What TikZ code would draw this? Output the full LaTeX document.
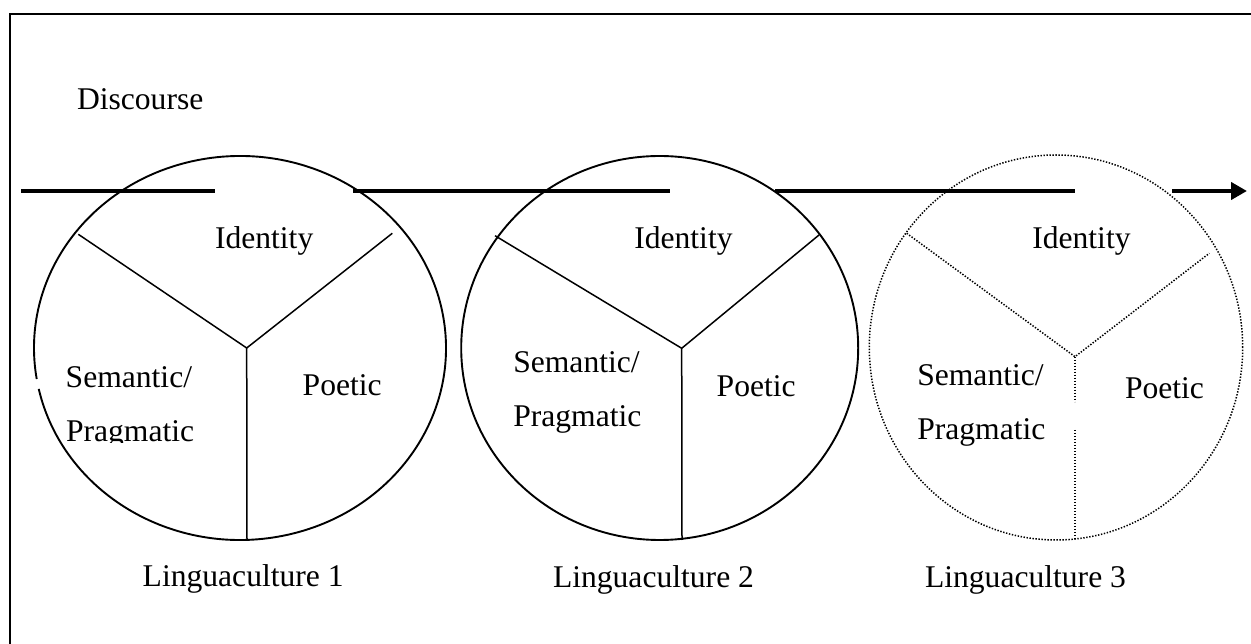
\documentclass[tikz,border=0pt]{standalone}
\usepackage{fontspec}
\setmainfont{Liberation Serif}
\usetikzlibrary{arrows.meta}
\begin{document}
\begin{tikzpicture}[x=1pt,y=1pt,
  every node/.style={inner sep=0pt, outer sep=0pt, anchor=base west,
    font=\fontsize{31.6}{37}\selectfont},
  frameline/.style={line width=2pt},
  ring/.style={line width=1.9pt},
  spoke/.style={line width=1.5pt},
  dotted ring/.style={line width=1.5pt, dash pattern=on 1.4pt off 1.6pt},
  flow/.style={line width=4pt},
  flowtip/.style={flow, -{Triangle[length=16pt,width=17pt]}}]
\useasboundingbox (0,0) rectangle (1251,643);
\fill[white] (0,0) rectangle (1251,643);

% outer frame (only the top and left edges fall inside the page)
\draw[frameline] (9.5,-5) -- (9.5,629) -- (1260,629);

% discourse timeline, broken into segments
\coordinate (d0) at (21,452);   \coordinate (d1) at (215,452);
\coordinate (d2) at (353,452);  \coordinate (d3) at (670,452);
\coordinate (d4) at (775,452);  \coordinate (d5) at (1075,452);
\coordinate (d6) at (1172,452); \coordinate (d7) at (1247,452);
\draw[flow] (d0) -- (d1);
\draw[flow] (d2) -- (d3);
\draw[flow] (d4) -- (d5);
\draw[flowtip] (d6) -- (d7);
\node (disc) at (77,533) {Discourse};

% ---- linguaculture 1 ----
\coordinate (c1) at (240,295);
\draw[ring] (c1) ++(192.3:206 and 192)
  arc[start angle=192.3, end angle=549.3, x radius=206, y radius=192];
\coordinate (j1) at (246.7,295);
\coordinate (l1) at (78.3,408.7);
\coordinate (r1) at (392.3,409.7);
\coordinate (b1) at (247,103);
\draw[spoke] (l1) -- (j1) -- (r1);
\draw[spoke] (j1) -- (b1);
\node (id1) at (215,394) {Identity};
\node (sa1) at (65.7,255) {Semantic/};
\begin{scope}
  \clip (40,200.8) rectangle (240,260);
  \node (sb1) at (66,201) {Pragmatic};
\end{scope}
\node (po1) at (302.7,247) {Poetic};
\node (lc1) at (142.7,56.3) {Linguaculture 1};

% ---- linguaculture 2 ----
\coordinate (c2) at (659.7,295);
\draw[ring] (c2) ellipse[x radius=198.5, y radius=192];
\coordinate (j2) at (681.7,294.7);
\coordinate (l2) at (495,407.3);
\coordinate (r2) at (819,408);
\coordinate (b2) at (682,103);
\draw[spoke] (l2) -- (j2) -- (r2);
\draw[spoke] (j2) -- (b2);
\node (id2) at (634.3,394) {Identity};
\node (sa2) at (513.3,270.7) {Semantic/};
\node (sb2) at (513.3,216.3) {Pragmatic};
\node (po2) at (716.7,246.3) {Poetic};
\node (lc2) at (553,56) {Linguaculture 2};

% ---- linguaculture 3 (dotted) ----
\coordinate (c3) at (1056,295.5);
\draw[dotted ring] (c3) ellipse[x radius=186.7, y radius=192.5];
\coordinate (j3) at (1075,286.3);
\coordinate (l3) at (906.7,409.7);
\coordinate (r3) at (1209.3,389.7);
\coordinate (m3) at (1075,241.3);
\coordinate (n3) at (1075,213);
\coordinate (b3) at (1075,103);
\draw[dotted ring] (l3) -- (j3) -- (r3);
\draw[dotted ring] (j3) -- (m3);
\draw[dotted ring] (n3) -- (b3);
\node (id3) at (1032.3,394) {Identity};
\node (sa3) at (917.3,257) {Semantic/};
\node (sb3) at (917.3,203) {Pragmatic};
\node (po3) at (1125,244.7) {Poetic};
\node (lc3) at (925,56) {Linguaculture 3};
\end{tikzpicture}
\end{document}
